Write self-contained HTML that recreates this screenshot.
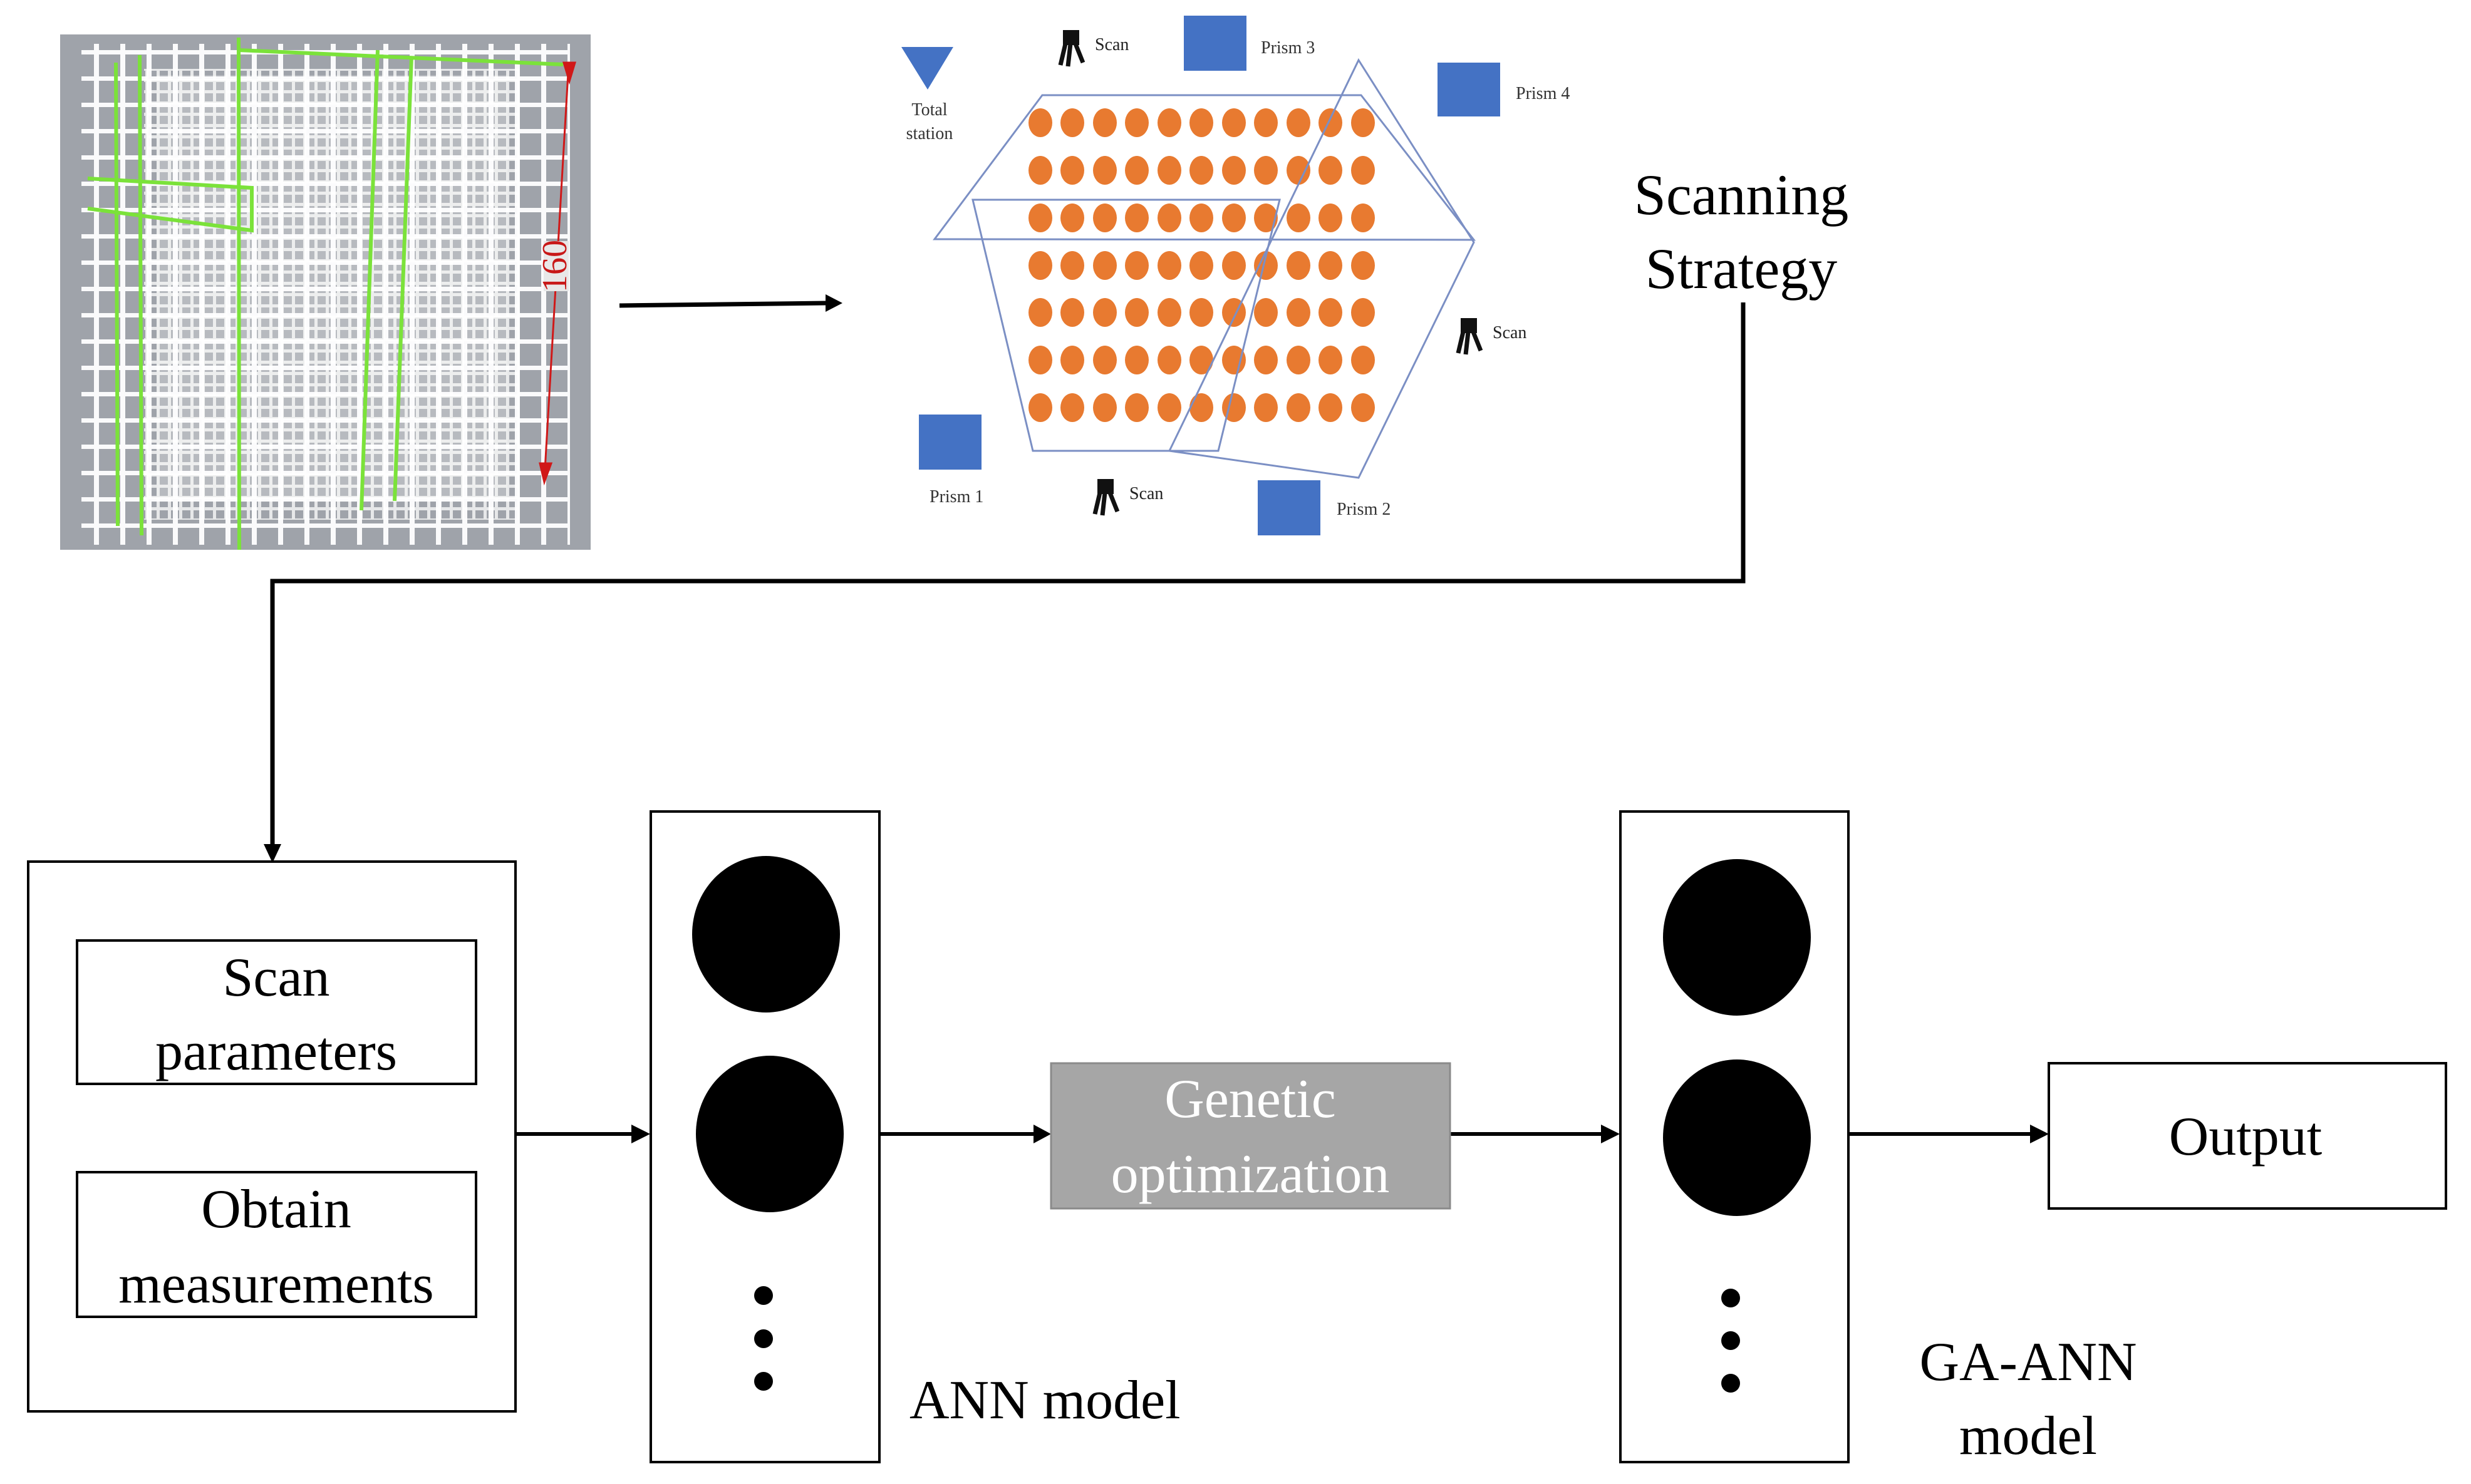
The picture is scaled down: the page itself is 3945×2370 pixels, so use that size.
<!DOCTYPE html>
<html><head><meta charset="utf-8"><style>
html,body{margin:0;padding:0;background:#fff}
svg{display:block}
text{font-family:"Liberation Serif",serif}
</style></head><body>
<svg width="3945" height="2370" viewBox="0 0 3945 2370" xmlns="http://www.w3.org/2000/svg">
<defs>
<pattern id="g1" x="150" y="80" width="42" height="42" patternUnits="userSpaceOnUse">
<rect x="0" y="0" width="8" height="42" fill="#fff"/><rect x="0" y="0" width="42" height="7" fill="#fff"/>
</pattern>
<pattern id="g2" x="160" y="90" width="18" height="18" patternUnits="userSpaceOnUse">
<rect x="0" y="0" width="5" height="18" fill="#f4f4f4"/><rect x="0" y="0" width="18" height="5" fill="#f4f4f4"/>
</pattern>
<g id="sc" fill="#111" stroke="#111">
<rect x="0" y="0" width="26" height="24" stroke="none"/>
<path d="M4,22 L-4,56 M12,22 L8,58 M20,22 L32,52" stroke-width="7" fill="none"/>
</g>
</defs>

<!-- grid image -->
<rect x="96" y="55" width="847" height="823" fill="#9fa3aa"/>
<rect x="230" y="110" width="600" height="720" fill="url(#g2)" opacity="0.85"/>
<rect x="130" y="70" width="780" height="800" fill="url(#g1)" opacity="0.95"/>
<rect x="250" y="120" width="560" height="680" fill="#fff" opacity="0.25"/>
<g stroke="#7be23a" stroke-width="6" fill="none">
<line x1="185" y1="100" x2="188" y2="840"/>
<line x1="223" y1="88" x2="226" y2="855"/>
<line x1="381" y1="60" x2="382" y2="878"/>
<line x1="603" y1="80" x2="577" y2="815"/>
<line x1="657" y1="90" x2="630" y2="800"/>
<line x1="381" y1="80" x2="899" y2="103"/>
<polyline points="140,285 402,300 402,368 140,333"/>
</g>
<g stroke="#d01818" stroke-width="3" fill="#d01818">
<line x1="908" y1="100" x2="870" y2="750"/>
<path d="M900,100 L918,100 L909,130 z"/>
<path d="M862,740 L880,740 L869,770 z"/>
</g>
<rect x="868" y="385" width="40" height="80" fill="#e8e8e8"/>
<text x="0" y="0" transform="translate(904,425) rotate(-90)" font-size="56" fill="#c81818" text-anchor="middle" font-family="Liberation Sans,sans-serif">160</text>

<!-- arrow 1 -->
<line x1="989" y1="488" x2="1320" y2="484" stroke="#000" stroke-width="7"/>
<path d="M1318,470 L1345,484 L1318,498 z" fill="#000"/>

<!-- scanning layout -->
<g fill="#e87a30">
<g id="row">
<ellipse cx="1661" cy="196" rx="19" ry="23"/><ellipse cx="1712" cy="196" rx="19" ry="23"/><ellipse cx="1764" cy="196" rx="19" ry="23"/><ellipse cx="1815" cy="196" rx="19" ry="23"/><ellipse cx="1867" cy="196" rx="19" ry="23"/><ellipse cx="1918" cy="196" rx="19" ry="23"/><ellipse cx="1970" cy="196" rx="19" ry="23"/><ellipse cx="2021" cy="196" rx="19" ry="23"/><ellipse cx="2073" cy="196" rx="19" ry="23"/><ellipse cx="2124" cy="196" rx="19" ry="23"/><ellipse cx="2176" cy="196" rx="19" ry="23"/>
</g>
<use href="#row" y="76"/><use href="#row" y="152"/><use href="#row" y="228"/><use href="#row" y="303"/><use href="#row" y="379"/><use href="#row" y="455"/>
</g>
<g fill="none" stroke="#7b8fc4" stroke-width="3">
<polygon points="1664,152 2173,152 2353,383 1492,382"/>
<polygon points="1553,319 2043,319 1945,720 1649,720"/>
<polygon points="2169,96 2353,387 2169,763 1867,720"/>
</g>
<path d="M1439,75 L1522,75 L1481,143 z" fill="#4472c4"/>
<text x="1484" y="184" font-size="28" text-anchor="middle" fill="#333">Total</text>
<text x="1484" y="222" font-size="28" text-anchor="middle" fill="#333">station</text>
<rect x="1890" y="25" width="100" height="88" fill="#4472c4"/>
<text x="2013" y="85" font-size="28" fill="#333">Prism 3</text>
<rect x="2295" y="100" width="100" height="86" fill="#4472c4"/>
<text x="2420" y="158" font-size="28" fill="#333">Prism 4</text>
<rect x="1467" y="662" width="100" height="88" fill="#4472c4"/>
<text x="1484" y="802" font-size="28" fill="#333">Prism 1</text>
<rect x="2008" y="767" width="100" height="88" fill="#4472c4"/>
<text x="2134" y="822" font-size="28" fill="#333">Prism 2</text>
<use href="#sc" x="1697" y="48"/>
<text x="1748" y="80" font-size="28" font-family="Liberation Sans,sans-serif" fill="#222">Scan</text>
<use href="#sc" x="2332" y="508"/>
<text x="2383" y="540" font-size="28" font-family="Liberation Sans,sans-serif" fill="#222">Scan</text>
<use href="#sc" x="1752" y="765"/>
<text x="1803" y="797" font-size="28" font-family="Liberation Sans,sans-serif" fill="#222">Scan</text>

<text x="2780" y="342" font-size="92" text-anchor="middle">Scanning</text>
<text x="2780" y="460" font-size="92" text-anchor="middle">Strategy</text>

<!-- connector -->
<polyline points="2783,483 2783,928 435,928 435,1360" fill="none" stroke="#000" stroke-width="7"/>
<path d="M421,1348 L449,1348 L435,1378 z" fill="#000"/>

<!-- left box -->
<rect x="45" y="1376" width="778" height="878" fill="none" stroke="#000" stroke-width="4"/>
<rect x="123" y="1502" width="637" height="229" fill="none" stroke="#000" stroke-width="4"/>
<text x="441" y="1590" font-size="88" text-anchor="middle">Scan</text>
<text x="441" y="1708" font-size="88" text-anchor="middle">parameters</text>
<rect x="123" y="1872" width="637" height="231" fill="none" stroke="#000" stroke-width="4"/>
<text x="441" y="1960" font-size="88" text-anchor="middle">Obtain</text>
<text x="441" y="2080" font-size="88" text-anchor="middle">measurements</text>

<g stroke="#000" stroke-width="6">
<line x1="823" y1="1811" x2="1012" y2="1811"/>
<line x1="1404" y1="1811" x2="1654" y2="1811"/>
<line x1="2315" y1="1811" x2="2560" y2="1811"/>
<line x1="2951" y1="1811" x2="3245" y2="1811"/>
</g>
<g fill="#000">
<path d="M1008,1796 L1038,1811 L1008,1826 z"/>
<path d="M1650,1796 L1678,1811 L1650,1826 z"/>
<path d="M2556,1796 L2586,1811 L2556,1826 z"/>
<path d="M3241,1796 L3271,1811 L3241,1826 z"/>
</g>

<!-- ANN -->
<rect x="1039" y="1296" width="365" height="1039" fill="none" stroke="#000" stroke-width="4"/>
<ellipse cx="1223" cy="1492" rx="118" ry="125"/>
<ellipse cx="1229" cy="1811" rx="118" ry="125"/>
<circle cx="1219" cy="2069" r="15"/><circle cx="1219" cy="2138" r="15"/><circle cx="1219" cy="2206" r="15"/>
<text x="1452" y="2265" font-size="88">ANN model</text>

<rect x="1678" y="1698" width="637" height="232" fill="#a6a6a6" stroke="#8a8a8a" stroke-width="3"/>
<text x="1996" y="1784" font-size="88" text-anchor="middle" fill="#fff">Genetic</text>
<text x="1996" y="1904" font-size="88" text-anchor="middle" fill="#fff">optimization</text>

<!-- GA-ANN -->
<rect x="2587" y="1296" width="364" height="1039" fill="none" stroke="#000" stroke-width="4"/>
<ellipse cx="2773" cy="1497" rx="118" ry="125"/>
<ellipse cx="2773" cy="1817" rx="118" ry="125"/>
<circle cx="2763" cy="2073" r="15"/><circle cx="2763" cy="2141" r="15"/><circle cx="2763" cy="2209" r="15"/>
<text x="3238" y="2204" font-size="88" text-anchor="middle">GA-ANN</text>
<text x="3238" y="2322" font-size="88" text-anchor="middle">model</text>

<rect x="3271" y="1698" width="634" height="232" fill="none" stroke="#000" stroke-width="4"/>
<text x="3585" y="1844" font-size="88" text-anchor="middle">Output</text>
</svg>
</body></html>
